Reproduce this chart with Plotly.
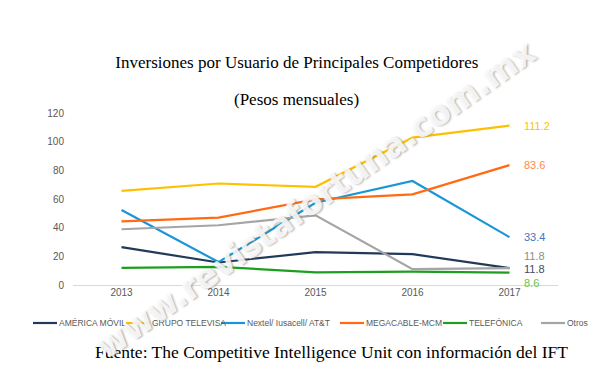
import plotly.graph_objects as go

years = [2013, 2014, 2015, 2016, 2017]
america_movil = [26.4, 15.7, 22.9, 21.5, 11.8]
grupo_televisa = [65.7, 70.8, 68.5, 102.8, 111.2]
nextel_iusacell_att = [52.3, 16.0, 57.4, 72.6, 33.4]
megacable_mcm = [44.4, 47.0, 59.7, 63.2, 83.6]
telefonica = [12.0, 12.7, 8.8, 9.4, 8.6]
otros = [38.9, 41.7, 48.6, 11.1, 11.8]

series = [
    ("AMÉRICA MÓVIL", america_movil, "#223a5a", "#3b4a6b", -1),
    ("GRUPO TELEVISA", grupo_televisa, "#ffc000", "#ffc000", 0),
    ("Nextel/ Iusacell/ AT&T", nextel_iusacell_att, "#1a96d8", "#4472c4", 0),
    ("MEGACABLE-MCM", megacable_mcm, "#ff6a13", "#ff8a4c", 0),
    ("TELEFÓNICA", telefonica, "#1e9e1e", "#70c04a", -10),
    ("Otros", otros, "#a5a5a5", "#8c8c8c", 12),
]

# legend layout (page pixels of line start for each entry)
legend_starts = [33, 126, 221, 340, 443, 541]
PLOT_L, PLOT_W = 73, 485
PLOT_B, PLOT_H = 285, 172
def px2paper_x(px):
    return (px - PLOT_L) / PLOT_W
def py2paper_y(py):
    return (PLOT_B - py) / PLOT_H

fig = go.Figure()
annotations = []
shapes = []
leg_y = py2paper_y(323)
for (name, vals, color, lcolor, ysh), lx in zip(series, legend_starts):
    fig.add_trace(go.Scatter(x=years, y=vals, mode="lines", name=name,
                             line=dict(color=color, width=2.2), showlegend=False))
    annotations.append(dict(x=years[-1], y=vals[-1], xref="x", yref="y",
                            text=f"{vals[-1]:.1f}", showarrow=False,
                            xanchor="left", xshift=12, yshift=ysh,
                            font=dict(family="Liberation Sans, Arial", size=11, color=lcolor)))
    shapes.append(dict(type="line", xref="paper", yref="paper",
                       x0=px2paper_x(lx), x1=px2paper_x(lx + 24), y0=leg_y, y1=leg_y,
                       line=dict(color=color, width=2.2)))
    annotations.append(dict(x=px2paper_x(lx + 24), y=leg_y, xref="paper", yref="paper",
                            xanchor="left", yanchor="middle", text=name, showarrow=False,
                            font=dict(family="Liberation Sans, Arial", size=8.5, color="#595959")))

annotations.append(dict(x=0.46, y=1.076, xref="paper", yref="paper", yanchor="middle",
                        text="(Pesos mensuales)", showarrow=False,
                        font=dict(family="Liberation Serif, serif", size=17, color="#000000")))
annotations.append(dict(x=0.532, y=-0.39, xref="paper", yref="paper", yanchor="middle",
                        text="Fuente: The Competitive Intelligence Unit con información del IFT",
                        showarrow=False,
                        font=dict(family="Liberation Serif, serif", size=17.5, color="#000000")))
annotations.append(dict(x=0.5, y=0.5, xref="paper", yref="paper",
                        text="www.revistafortuna.com.mx", showarrow=False, textangle=-35,
                        font=dict(family="DejaVu Sans, sans-serif", size=33, color="rgba(255,255,255,0.85)",
                                  weight="bold", shadow="1px 1px 2px rgba(120,120,120,0.7)")))

fig.update_layout(
    width=592, height=369,
    margin=dict(l=65, r=42, t=105, b=92),
    paper_bgcolor="white", plot_bgcolor="white",
    title=dict(text="Inversiones por Usuario de Principales Competidores",
               x=0.488, xanchor="center", y=1 - 54 / 369, yanchor="middle",
               font=dict(family="Liberation Serif, serif", size=17, color="#000000")),
    xaxis=dict(range=[2012.5, 2017.5], tickvals=years, ticktext=[str(y) for y in years],
               showgrid=False, zeroline=False, showline=False,
               tickfont=dict(family="Liberation Sans, Arial", size=10, color="#595959")),
    yaxis=dict(range=[0, 120], tickvals=[0, 20, 40, 60, 80, 100, 120],
               showgrid=False, zeroline=True, zerolinecolor="#d9d9d9", zerolinewidth=1,
               showline=False, ticks="", ticklabelstandoff=8,
               tickfont=dict(family="Liberation Sans, Arial", size=10, color="#595959")),
    annotations=annotations,
    shapes=shapes,
    showlegend=False,
)

fig.write_html("out.html")
